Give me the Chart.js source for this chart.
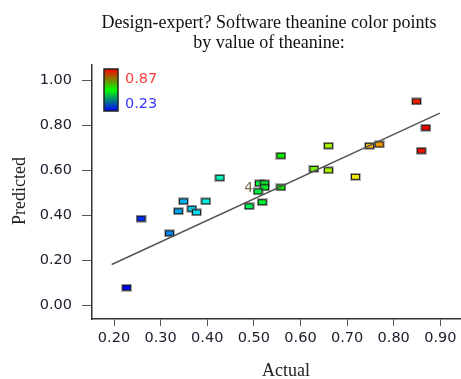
<!DOCTYPE html>
<html>
<head>
<meta charset="utf-8">
<script src="https://cdn.jsdelivr.net/npm/chart.js@4/dist/chart.umd.min.js"></script>
<style>
  html, body { margin: 0; padding: 0; background: #ffffff; }
  canvas { display: block; }
</style>
</head>
<body>
<canvas id="chart" width="461" height="379"></canvas>
<script>
// Actual vs. predicted theanine values (one point per run)
const actual = [
  0.227, 0.258, 0.319, 0.338, 0.349, 0.367, 0.377, 0.397, 0.427,
  0.490, 0.518, 0.512, 0.523, 0.523, 0.509, 0.558, 0.558,
  0.629, 0.660, 0.660, 0.718, 0.748, 0.769, 0.849, 0.869, 0.859
];
const predicted = [
  0.080, 0.387, 0.322, 0.420, 0.464, 0.431, 0.415, 0.464, 0.569,
  0.442, 0.460, 0.544, 0.544, 0.526, 0.508, 0.526, 0.667,
  0.608, 0.711, 0.602, 0.573, 0.711, 0.717, 0.908, 0.791, 0.689
];

// Reference line end points
const fitActual = [0.195, 0.899];
const fitPredicted = [0.183, 0.856];

// Tick values
const xTickValues = [0.2, 0.3, 0.4, 0.5, 0.6, 0.7, 0.8, 0.9];
const yTickValues = [0.0, 0.2, 0.4, 0.6, 0.8, 1.0];

// Colour scale range (low, high) and the overlap counter
const colorRange = [0.23, 0.87];
const overlapAt = [0.489, 0.523];
const overlapCount = 4;

const SERIF = '"Liberation Serif", "Times New Roman", serif';
const SANS = '"DejaVu Sans", Verdana, sans-serif';

// Blue -> green -> red by value
function valueColor(v) {
  const t = Math.min(1, Math.max(0, (v - colorRange[0]) / (colorRange[1] - colorRange[0])));
  const hue = 240 * (1 - t);
  return 'hsl(' + hue.toFixed(1) + ', 100%, 47%)';
}

// Small bordered rectangle marker
function makeMarker(color) {
  const c = document.createElement('canvas');
  c.width = 11; c.height = 8;
  const g = c.getContext('2d');
  g.fillStyle = 'rgba(90,90,90,0.45)';
  g.fillRect(0, 0, 11, 8);
  g.fillStyle = '#1a1a1a';
  g.fillRect(1, 1, 9, 6);
  g.fillStyle = color;
  g.fillRect(2, 2, 7, 4);
  return c;
}

const markers = actual.map(v => makeMarker(valueColor(v)));
const points = actual.map((x, i) => ({ x: x, y: predicted[i] }));
const fitPoints = fitActual.map((x, i) => ({ x: x, y: fitPredicted[i] }));

const decor = {
  id: 'decor',
  afterDraw(chart) {
    const ctx = chart.ctx;
    const xs = chart.scales.x, ys = chart.scales.y;
    ctx.save();

    // Title
    ctx.fillStyle = '#111111';
    ctx.font = '18px ' + SERIF;
    ctx.textAlign = 'center';
    ctx.textBaseline = 'alphabetic';
    ctx.fillText('Design-expert? Software theanine color points', 269, 28);
    ctx.fillText('by value of theanine:', 269, 48);

    // Axis titles
    ctx.fillStyle = '#222222';
    ctx.fillText('Actual', 286, 376);
    ctx.save();
    ctx.translate(25, 191);
    ctx.rotate(-Math.PI / 2);
    ctx.fillText('Predicted', 0, 0);
    ctx.restore();

    // Colour bar
    const bx = 104, by = 69, bw = 14, bh = 42;
    const grad = ctx.createLinearGradient(0, by, 0, by + bh);
    grad.addColorStop(0, '#ff0000');
    grad.addColorStop(0.5, '#00ff00');
    grad.addColorStop(1, '#0000ff');
    ctx.fillStyle = grad;
    ctx.fillRect(bx, by, bw, bh);
    ctx.strokeStyle = '#222222';
    ctx.lineWidth = 1.5;
    ctx.strokeRect(bx, by, bw, bh);

    ctx.font = '14.5px ' + SANS;
    ctx.textAlign = 'left';
    ctx.fillStyle = '#ff3c3c';
    ctx.fillText(colorRange[1].toFixed(2), 125, 83);
    ctx.fillStyle = '#3434ff';
    ctx.fillText(colorRange[0].toFixed(2), 125, 108);

    // Overlap counter
    ctx.font = '14px ' + SANS;
    ctx.textAlign = 'center';
    ctx.textBaseline = 'middle';
    ctx.fillStyle = '#7a6a52';
    ctx.fillText(String(overlapCount), xs.getPixelForValue(overlapAt[0]), ys.getPixelForValue(overlapAt[1]));

    ctx.restore();
  }
};

new Chart(document.getElementById('chart'), {
  type: 'scatter',
  data: {
    datasets: [
      {
        type: 'line',
        data: fitPoints,
        borderColor: '#555555',
        borderWidth: 1.5,
        pointRadius: 0,
        fill: false,
        order: 0
      },
      {
        data: points,
        pointStyle: ctx => markers[ctx.dataIndex],
        pointRadius: 5,
        order: 1
      }
    ]
  },
  options: {
    responsive: false,
    animation: false,
    layout: { autoPadding: false, padding: { top: 65, left: 0, right: 0, bottom: 0 } },
    plugins: {
      legend: { display: false },
      tooltip: { enabled: false },
      title: { display: false }
    },
    scales: {
      x: {
        type: 'linear',
        min: 0.1528,
        max: 0.9444,
        afterFit: s => { s.height = 60; s.paddingLeft = 0; s.paddingRight = 0; },
        afterBuildTicks: s => { s.ticks = xTickValues.map(v => ({ value: v })); },
        ticks: {
          callback: v => Number(v).toFixed(2),
          font: { family: SANS, size: 14.5 },
          color: '#202030',
          padding: 4,
          maxRotation: 0
        },
        grid: { drawOnChartArea: false, drawTicks: true, tickLength: 7, color: '#555555', lineWidth: 1 },
        border: { display: true, color: '#333333', width: 1.5 }
      },
      y: {
        type: 'linear',
        min: -0.059,
        max: 1.0698,
        afterFit: s => { s.width = 92; s.paddingTop = 0; s.paddingBottom = 0; },
        afterBuildTicks: s => { s.ticks = yTickValues.map(v => ({ value: v })); },
        ticks: {
          callback: v => Number(v).toFixed(2),
          font: { family: SANS, size: 14.5 },
          color: '#202030',
          padding: 10
        },
        grid: { drawOnChartArea: false, drawTicks: true, tickLength: 10, color: '#555555', lineWidth: 1 },
        border: { display: true, color: '#333333', width: 1.5 }
      }
    }
  },
  plugins: [decor]
});
</script>
</body>
</html>
